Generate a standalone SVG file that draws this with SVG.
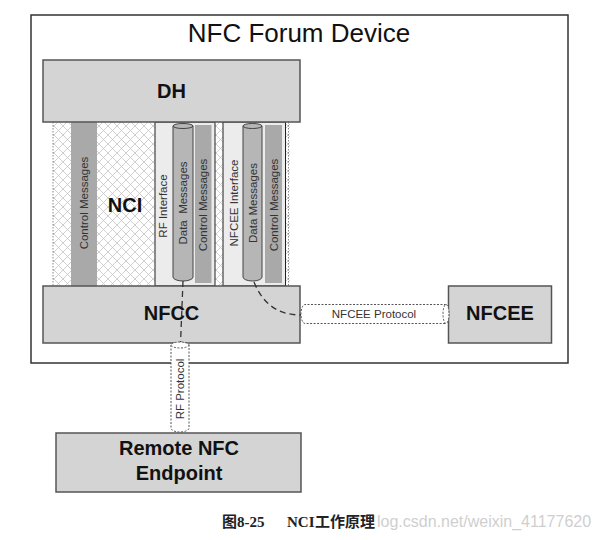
<svg xmlns="http://www.w3.org/2000/svg" width="605" height="540" viewBox="0 0 605 540">
<defs>
<pattern id="hatch" patternUnits="userSpaceOnUse" width="9" height="9">
<rect width="9" height="9" fill="#ffffff"/>
<path d="M0,0 L9,9 M9,0 L0,9" stroke="#c4c4c4" stroke-width="0.8" fill="none"/>
</pattern>
<style>
.box{fill:#d4d4d4;stroke:#555;stroke-width:1.5}
.panel{fill:#ececec;stroke:#222;stroke-width:1}
.bar{fill:#a9a9a9;stroke:none}
.cyl{fill:#b6b6b6;stroke:#444;stroke-width:1}
.big{font-family:"Liberation Sans",Arial,sans-serif;font-weight:bold;font-size:20px;fill:#111;text-anchor:middle}
.small{font-family:"Liberation Sans",Arial,sans-serif;font-size:11.5px;fill:#333;text-anchor:middle}
.proto{fill:#fff;stroke:#555;stroke-width:1;stroke-dasharray:2 1.5}
.dash{fill:none;stroke:#333;stroke-width:1.3;stroke-dasharray:6 4}
</style>
</defs>
<rect width="605" height="540" fill="#ffffff"/>

<g id="frame">
<rect x="31" y="15" width="537" height="348" fill="#fff" stroke="#333" stroke-width="1.5"/>
<text x="299" y="42" font-family="Liberation Sans,Arial,sans-serif" font-size="26" fill="#111" text-anchor="middle">NFC Forum Device</text>
</g>

<g id="nci">
<rect x="53" y="122" width="237" height="164" fill="url(#hatch)"/>
<line x1="53" y1="122" x2="53" y2="286" stroke="#888" stroke-dasharray="1.5 1.5"/>
<line x1="288.5" y1="122" x2="288.5" y2="286" stroke="#888" stroke-dasharray="1.5 1.5"/>
<rect class="bar" x="71" y="122" width="26" height="164"/>
<text class="small" transform="translate(88,203) rotate(-90)">Control Messages</text>
<text class="big" x="125" y="212">NCI</text>
</g>

<g id="rf-interface">
<rect class="panel" x="155" y="122" width="60" height="164"/>
<text class="small" transform="translate(167,206) rotate(-90)">RF Interface</text>
<path class="cyl" d="M173,126 V277 A10,4 0 0 0 193,277 V126 Z"/>
<ellipse class="cyl" cx="183" cy="126" rx="10" ry="2.5"/>
<text class="small" transform="translate(187,203) rotate(-90)" xml:space="preserve">Data  Messages</text>
<rect class="bar" x="195" y="125" width="16.5" height="158"/>
<text class="small" transform="translate(207,205) rotate(-90)">Control Messages</text>
</g>

<g id="nfcee-interface">
<rect class="panel" x="223" y="122" width="62.5" height="164"/>
<text class="small" transform="translate(238,203) rotate(-90)">NFCEE Interface</text>
<path class="cyl" d="M243,126 V277 A9.5,4 0 0 0 262,277 V126 Z"/>
<ellipse class="cyl" cx="252.5" cy="126" rx="9.5" ry="2.5"/>
<text class="small" transform="translate(256.5,203) rotate(-90)">Data Messages</text>
<rect class="bar" x="265" y="125" width="17" height="158"/>
<text class="small" transform="translate(277.5,205) rotate(-90)">Control Messages</text>
</g>

<g id="dh">
<rect class="box" x="43" y="60" width="257" height="62"/>
<text class="big" x="171.5" y="98">DH</text>
</g>

<g id="nfcc">
<rect class="box" x="43" y="286" width="257" height="57"/>
<text class="big" x="171.5" y="320">NFCC</text>
</g>

<g id="nfcee">
<rect class="box" x="448.5" y="286" width="103" height="57"/>
<text class="big" x="500" y="320">NFCEE</text>
</g>

<g id="remote">
<rect class="box" x="56" y="433" width="245" height="59"/>
<text class="big" x="179" y="455">Remote NFC</text>
<text class="big" x="179" y="480">Endpoint</text>
</g>

<g id="connectors">
<path class="dash" d="M183,281 L180.5,344"/>
<path class="dash" d="M254,282 C262,302 276,315 301,315"/>
<g id="rf-protocol">
<path class="proto" d="M171,345 V428 A9,4 0 0 0 189,428 V345"/>
<ellipse class="proto" cx="180" cy="345" rx="9" ry="3"/>
<text class="small" transform="translate(184,389) rotate(-90)">RF Protocol</text>
</g>
<g id="nfcee-protocol">
<path class="proto" d="M446,304.5 H305 A4,9.5 0 0 0 305,323.5 H446"/>
<ellipse class="proto" cx="446" cy="314" rx="3" ry="9.5"/>
<text class="small" x="374" y="318">NFCEE Protocol</text>
</g>
</g>

<g id="caption">
<text x="377" y="527" font-family="Liberation Sans,Arial,sans-serif" font-size="16" fill="#cfcfcf">log.csdn.net/weixin_41177620</text>
<text y="527" font-family="Liberation Serif,'Noto Sans CJK SC',serif" font-size="15" font-weight="bold" fill="#222"><tspan x="222">图8-25</tspan><tspan x="287">NCI</tspan><tspan x="315">工作原理</tspan></text>
</g>
</svg>
